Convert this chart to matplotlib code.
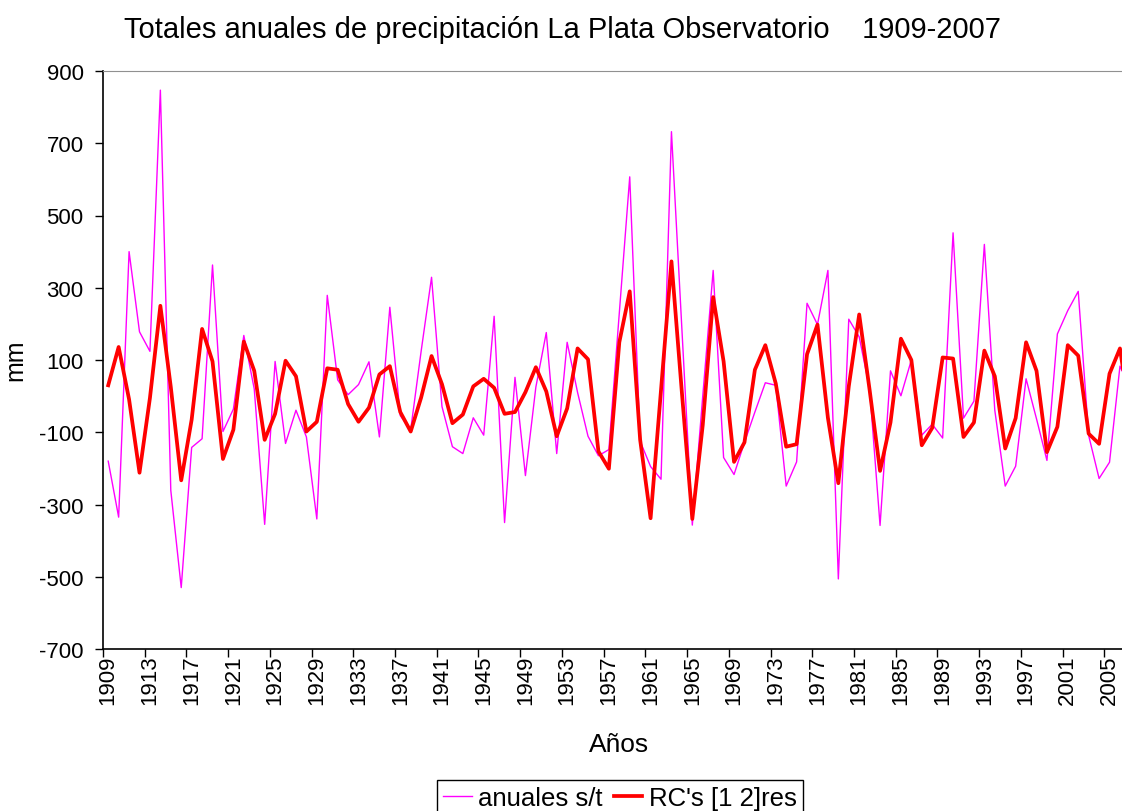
import numpy as np
import matplotlib
matplotlib.use("Agg")
import matplotlib.pyplot as plt

plt.rcParams['font.family'] = ['Liberation Sans', 'DejaVu Sans']
plt.rcParams['axes.unicode_minus'] = False

years = np.arange(1909, 2008)

# anuales s/t (mm)
anuales = [-180, -335, 400, 178, 124, 847, -261, -530, -142, -118,
           363, -98, -36, 168, 20, -355, 96, -131, -39, -113,
           -340, 279, 45, 4, 32, 95, -113, 246, -54, -93,
           124, 329, -29, -140, -159, -60, -108, 221, -350, 52,
           -220, 25, 176, -159, 149, 10, -111, -165, -148, 230,
           607, -125, -195, -230, 732, 186, -357, 0, 348, -170,
           -217, -128, -44, 37, 30, -249, -182, 257, 198, 348,
           -506, 213, 164, 20, -358, 70, 1, 100, -108, -78,
           -116, 452, -61, -14, 420, -39, -249, -194, 48, -63,
           -178, 172, 237, 290, -109, -228, -183, 83, 20]

# RC's [1 2]res (mm)
rcs = [30, 136, -9, -212, -5, 250, 25, -233, -65, 186,
       96, -174, -93, 151, 70, -121, -49, 98, 55, -98,
       -71, 77, 73, -22, -71, -32, 60, 83, -44, -98,
       -4, 111, 33, -75, -51, 27, 48, 23, -49, -44,
       11, 80, 13, -111, -34, 132, 102, -153, -201, 149,
       290, -121, -338, 17, 373, 10, -340, -80, 274, 96,
       -182, -128, 73, 141, 35, -140, -133, 116, 198, -60,
       -241, 27, 226, 17, -207, -73, 159, 100, -136, -88,
       107, 104, -113, -73, 126, 55, -145, -61, 149, 70,
       -155, -85, 141, 112, -104, -132, 62, 132, -60]

yticks = [-700, -500, -300, -100, 100, 300, 500, 700, 900]
xlabels = list(range(1909, 2008, 4))

fig = plt.figure(figsize=(11.22, 8.12), dpi=100)
# categories sit between tick marks, like the original spreadsheet chart
ax = fig.add_axes([103 / 1122, 1 - 650 / 812, (1135.6 - 103) / 1122, 578 / 812])

ax.plot(years, anuales, color='#FF00FF', lw=1.0, label='anuales s/t')
ax.plot(years, rcs, color='#FF0000', lw=2.7, label="RC's [1 2]res")

ax.set_xlim(1908.5, 2007.5)
ax.set_ylim(-700, 900)
ax.set_yticks(yticks)
ax.set_yticklabels([str(v) for v in yticks], fontsize=16)
ax.tick_params(axis='y', direction='out', length=6, width=1, pad=8, color='black')

ax.set_xticks(np.arange(1908.5, 2008, 4))
ax.set_xticklabels([])
ax.set_xticks(xlabels, minor=True)
ax.set_xticklabels([str(v) for v in xlabels], minor=True, rotation=90, fontsize=16)
ax.tick_params(axis='x', which='major', direction='out', length=6, width=1, color='black')
ax.tick_params(axis='x', which='minor', length=0, pad=4)

ax.spines['top'].set_color('#909090')
ax.spines['right'].set_visible(False)
for s in ['left', 'bottom']:
    ax.spines[s].set_color('black')
    ax.spines[s].set_linewidth(1.2)

fig.text(562 / 1122, 1 - 30 / 812,
         'Totales anuales de precipitación La Plata Observatorio    1909-2007',
         ha='center', va='center', fontsize=21)
fig.text(15 / 1122, 1 - 360 / 812, 'mm', rotation=90, ha='center', va='center', fontsize=18)
fig.text(619 / 1122, 1 - 745 / 812, 'Años', ha='center', va='center', fontsize=19)

leg = fig.legend(loc='upper center', bbox_to_anchor=(620 / 1122, 1 - 781 / 812),
                 ncol=2, fontsize=18.5, frameon=True, fancybox=False, framealpha=1,
                 edgecolor='black', handlelength=1.1, handletextpad=0.25,
                 columnspacing=0.45, borderpad=0.25, borderaxespad=0)
leg.get_frame().set_linewidth(1.0)

fig.savefig('out.png', dpi=100)
